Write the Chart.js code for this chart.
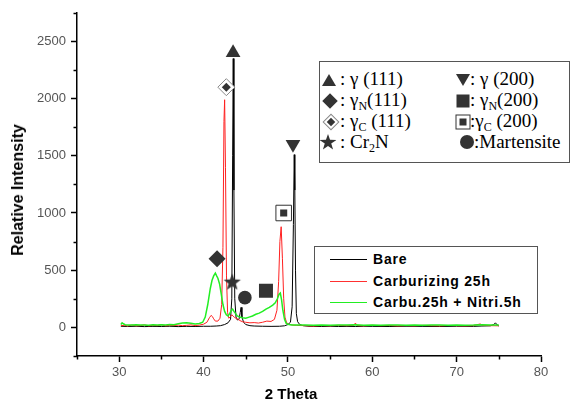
<!DOCTYPE html>
<html><head><meta charset="utf-8">
<script src="https://cdn.jsdelivr.net/npm/chart.js@4.4.1/dist/chart.umd.min.js"></script>
<style>
html,body{margin:0;padding:0;background:#fff;}
#wrap{position:relative;width:571px;height:403px;overflow:hidden;background:#fff;}
#c{position:absolute;left:0;top:0;}
.abs{position:absolute;white-space:nowrap;}
.ttl{font-family:"Liberation Sans",Arial,sans-serif;font-weight:bold;font-size:15px;color:#000;}
.box{position:absolute;border:1px solid #555;background:#fff;box-sizing:border-box;}
.mt{position:absolute;font-family:"Liberation Serif","Times New Roman",serif;font-size:19px;line-height:22px;color:#000;white-space:nowrap;}
.mt sub{font-size:12px;vertical-align:-4px;line-height:0;}
.lt{position:absolute;font-family:"Liberation Sans",Arial,sans-serif;font-weight:bold;font-size:14px;letter-spacing:0.8px;line-height:16px;color:#000;white-space:nowrap;}
.ls{position:absolute;height:1px;width:37px;}
.sym{position:absolute;transform:translate(-50%,-50%);}
</style></head><body>
<div id="wrap">
<canvas id="c" width="571" height="403"></canvas>
<div class="abs ttl" style="left:18px;top:190px;font-size:16px;transform:translate(-50%,-50%) rotate(-90deg);">Relative Intensity</div>
<div class="abs ttl" style="left:291px;top:393px;transform:translate(-50%,-50%);">2 Theta</div>

<div class="box" style="left:319px;top:61px;width:251px;height:102px;"></div>
<!-- row 1 -->
<div class="sym" style="left:329px;top:80px;width:0;height:0;border-left:7px solid transparent;border-right:7px solid transparent;border-bottom:12px solid #333;"></div>
<div class="mt" style="left:340px;top:68px;">: γ (111)</div>
<div class="sym" style="left:463px;top:80px;width:0;height:0;border-left:7px solid transparent;border-right:7px solid transparent;border-top:12px solid #333;"></div>
<div class="mt" style="left:470px;top:68px;">: γ (200)</div>
<!-- row 2 -->
<div class="sym" style="left:330px;top:101px;width:11px;height:11px;background:#333;transform:translate(-50%,-50%) rotate(45deg);"></div>
<div class="mt" style="left:340px;top:89px;">: γ<sub>N</sub>(111)</div>
<div class="sym" style="left:463px;top:101px;width:13px;height:13px;background:#333;"></div>
<div class="mt" style="left:470px;top:89px;">: γ<sub>N</sub>(200)</div>
<!-- row 3 -->
<div class="sym" style="left:331px;top:122px;width:10px;height:10px;background:#fff;border:1px solid #888;transform:translate(-50%,-50%) rotate(45deg);"></div>
<div class="sym" style="left:331px;top:122px;width:6px;height:6px;background:#333;transform:translate(-50%,-50%) rotate(45deg);"></div>
<div class="mt" style="left:340px;top:110px;">: γ<sub>C</sub> (111)</div>
<div class="sym" style="left:463px;top:122px;width:13px;height:13px;background:#fff;border:1px solid #333;"></div>
<div class="sym" style="left:463px;top:122px;width:7px;height:7px;background:#333;"></div>
<div class="mt" style="left:470px;top:110px;">:γ<sub>C</sub> (200)</div>
<!-- row 4 -->
<div class="sym" style="left:328px;top:142px;width:17px;height:16px;background:#333;clip-path:polygon(50% 0%,62% 36%,100% 37%,69% 60%,80% 97%,50% 75%,20% 97%,31% 60%,0% 37%,38% 36%);"></div>
<div class="mt" style="left:340px;top:131px;">: Cr<sub>2</sub>N</div>
<div class="sym" style="left:467px;top:142px;width:14px;height:14px;border-radius:50%;background:#333;"></div>
<div class="mt" style="left:474px;top:131px;">:Martensite</div>

<div class="box" style="left:314px;top:246px;width:224px;height:68px;"></div>
<div class="ls" style="left:330px;top:259px;background:#000;"></div>
<div class="lt" style="left:373px;top:251px;">Bare</div>
<div class="ls" style="left:330px;top:281px;background:#ff3030;"></div>
<div class="lt" style="left:373px;top:273px;">Carburizing 25h</div>
<div class="ls" style="left:330px;top:302px;background:#22ee22;"></div>
<div class="lt" style="left:373px;top:294px;">Carbu.25h + Nitri.5h</div>
</div>
<script>
// ---- data ----
const bareX = [30.2,31,32,33,34,35,36,37,38,39,40,40.8,41.5,42,42.5,42.9,43.2,43.35,43.45,43.52,43.6,43.7,43.85,44.0,44.2,44.35,44.45,44.55,44.75,45.0,45.5,46,47,48,49,49.6,50.0,50.3,50.5,50.65,50.75,50.82,50.9,51.0,51.15,51.4,51.8,52.5,53,54,55,56,57,58,59,60,62,64,66,68,70,72,73,74,74.4,74.6,74.8,75];
const bareY = [10,8,10,7,9,8,10,7,9,8,10,10,12,15,25,40,70,250,1500,2350,1200,250,90,65,70,130,175,90,45,25,15,12,10,9,10,14,25,45,180,900,1510,1200,500,120,50,25,15,10,9,8,10,8,9,8,10,9,8,10,9,8,10,9,12,14,25,40,22,12];

const carbX = [30.2,30.6,31,31.5,32,32.5,33,33.5,34,34.5,35,35.5,36,36.5,37,37.5,38,38.5,39,39.5,40,40.4,40.7,40.9,41.05,41.2,41.4,41.7,41.95,42.15,42.3,42.42,42.5,42.6,42.72,42.85,43.0,43.2,43.35,43.5,43.7,44.0,44.3,44.6,45,45.5,46,46.5,47,47.5,48,48.4,48.7,48.9,49.05,49.2,49.35,49.5,49.65,49.85,50.2,50.6,51,52,53,54,55,56,57,57.8,58,58.2,59,60,61,62,63,64,65,66,67,68,69,70,71,72,72.8,73,74,75];
const carbY = [15,18,12,20,14,16,22,13,18,15,22,14,18,16,20,15,18,22,16,20,28,45,85,105,95,75,55,55,80,200,700,1800,1990,1400,450,130,80,95,110,100,85,75,60,50,45,40,42,38,45,55,52,70,150,400,750,880,600,250,90,40,25,20,18,15,12,16,14,18,15,18,38,16,14,18,15,17,13,16,14,18,15,13,17,15,14,16,30,18,15,14];

const nitrX = [30.2,30.35,30.5,30.7,31,31.5,32,32.5,33,33.5,34,34.5,35,35.5,36,36.5,37,37.5,38,38.5,39,39.5,39.9,40.2,40.5,40.8,41.0,41.2,41.4,41.55,41.7,41.9,42.1,42.3,42.5,42.7,42.9,43.1,43.3,43.45,43.6,43.8,44.0,44.3,44.6,45.0,45.4,45.8,46.2,46.6,47.0,47.4,47.8,48.2,48.5,48.75,48.95,49.1,49.25,49.4,49.6,49.8,50.1,50.5,51,52,53,54,55,56,57,58,59,60,61,62,63,64,65,66,67,68,69,70,71,72,73,74,75];
const nitrY = [25,40,32,24,22,20,24,20,22,19,23,21,24,22,26,24,32,38,40,36,30,34,45,90,200,340,410,450,475,450,430,380,290,200,140,110,100,120,150,160,140,120,100,90,85,80,90,100,115,125,140,160,175,195,215,250,290,300,240,150,70,35,25,22,20,22,18,21,19,22,20,24,19,21,18,22,20,19,21,18,20,22,19,21,18,20,24,22,20];

// peak markers: γ(111), γ(200), γN(111), γN(200), γC(111), γC(200), Cr2N, Martensite
const markerX = [43.5, 50.6, 41.6, 47.4, 42.7, 49.5, 43.4, 44.9];
const markerY = [2400, 1600, 600, 320, 2100, 1000, 400, 260];

const xTicks = [25,30,35,40,45,50,55,60,65,70,75,80];
const yTicks = [-250,0,250,500,750,1000,1250,1500,1750,2000,2250,2500,2750];

const seriesNames = ['Bare','Carburizing 25h','Carbu.25h + Nitri.5h'];

const pts = (xs, ys) => xs.map((x, i) => ({x, y: ys[i]}));

// star point image
const star = document.createElement('canvas');
star.width = 20; star.height = 20;
(function(){
  const g = star.getContext('2d');
  g.fillStyle = '#333';
  g.beginPath();
  for (let i = 0; i < 10; i++) {
    const r = i % 2 === 0 ? 9 : 3.8;
    const a = -Math.PI/2 + i * Math.PI/5;
    const px = 10 + r*Math.cos(a), py = 10.8 + r*Math.sin(a);
    if (i === 0) g.moveTo(px, py); else g.lineTo(px, py);
  }
  g.closePath(); g.fill();
})();

const minorTicks = {
  id: 'minorTicks',
  afterDraw(chart) {
    const g = chart.ctx, xs = chart.scales.x, ys = chart.scales.y;
    g.save(); g.strokeStyle = '#000'; g.lineWidth = 1.5;
    xTicks.forEach(v => {
      if (v % 10 !== 0) {
        const p = Math.round(xs.getPixelForValue(v)) + 0.5;
        g.beginPath(); g.moveTo(p, xs.top); g.lineTo(p, xs.top + 3.5); g.stroke();
      }
    });
    yTicks.forEach(v => {
      if (v % 500 !== 0) {
        const p = Math.round(ys.getPixelForValue(v)) + 0.5;
        g.beginPath(); g.moveTo(ys.right, p); g.lineTo(ys.right - 3.5, p); g.stroke();
      }
    });
    g.restore();
  }
};

new Chart(document.getElementById('c'), {
  type: 'scatter',
  data: {
    datasets: [
      { label: 'inner', data: pts([markerX[4], markerX[5]], [markerY[4], markerY[5]]), order: 0, showLine: false,
        pointStyle: ['rectRot','rect'], pointRadius: [4.5, 5], backgroundColor: '#333', borderColor: '#333', borderWidth: 0 },
      { label: 'markers', data: pts(markerX, markerY), order: 1, showLine: false,
        pointStyle: ['triangle','triangle','rectRot','rect','rectRot','rect', star, 'circle'],
        rotation: [0,180,0,0,0,0,0,0],
        pointRadius: [8.5, 8.5, 8.5, 9.9, 8.5, 11, 10, 6.8],
        backgroundColor: ['#333','#333','#333','#333','#fff','#fff','#333','#333'],
        borderColor: ['#333','#333','#333','#333','#888','#333','#333','#333'],
        borderWidth: [0,0,0,0,1,1,0,0] },
      { label: seriesNames[2], data: pts(nitrX, nitrY), order: 2, showLine: true, borderColor: '#22ee22', borderWidth: 1.5, pointRadius: 0, tension: 0 },
      { label: seriesNames[1], data: pts(carbX, carbY), order: 3, showLine: true, borderColor: '#ff2020', borderWidth: 1, pointRadius: 0, tension: 0 },
      { label: seriesNames[0], data: pts(bareX, bareY), order: 4, showLine: true, borderColor: '#000', borderWidth: 1, pointRadius: 0, tension: 0 }
    ]
  },
  options: {
    responsive: false, animation: false, devicePixelRatio: 1,
    layout: { padding: { top: 8, right: 30, left: 0, bottom: 0 } },
    plugins: { legend: { display: false }, tooltip: { enabled: false } },
    scales: {
      x: {
        type: 'linear', min: 25, max: 80,
        afterBuildTicks: s => { s.ticks = xTicks.map(v => ({ value: v })); },
        afterFit: s => { s.height = 47; },
        ticks: { autoSkip: false, maxRotation: 0, padding: 3, color: '#555',
          font: { family: 'Liberation Sans, Arial, sans-serif', size: 13 },
          callback: v => (v % 10 === 0 ? String(v) : '') },
        grid: { drawOnChartArea: false, drawTicks: true, tickLength: 6, tickWidth: 1.5,
          tickColor: c => (c.tick && c.tick.value % 10 === 0 ? '#000' : 'rgba(0,0,0,0)') },
        border: { display: true, color: '#000', width: 1.5 }
      },
      y: {
        type: 'linear', min: -250, max: 2750,
        afterBuildTicks: s => { s.ticks = yTicks.map(v => ({ value: v })); },
        afterFit: s => { s.width = 77; },
        ticks: { autoSkip: false, padding: 5, color: '#555',
          font: { family: 'Liberation Sans, Arial, sans-serif', size: 13 },
          callback: v => (v % 500 === 0 && v >= 0 ? String(v) : '') },
        grid: { drawOnChartArea: false, drawTicks: true, tickLength: 6, tickWidth: 1.5,
          tickColor: c => (c.tick && c.tick.value % 500 === 0 ? '#000' : 'rgba(0,0,0,0)') },
        border: { display: true, color: '#000', width: 1.5 }
      }
    }
  },
  plugins: [minorTicks]
});
</script>
</body></html>
